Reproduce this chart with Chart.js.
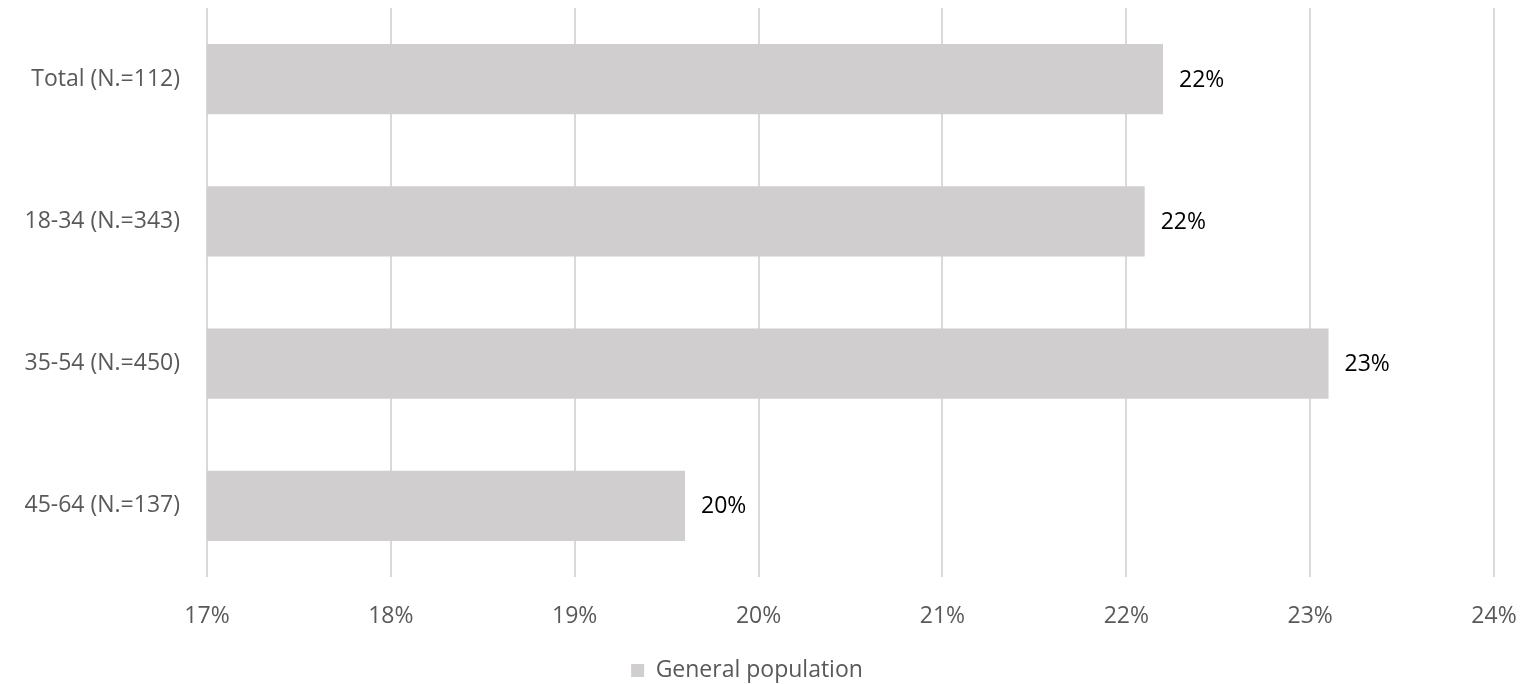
<!DOCTYPE html>
<html>
<head>
<meta charset="utf-8">
<script src="https://cdn.jsdelivr.net/npm/chart.js@4/dist/chart.umd.min.js"></script>
<style>
  html, body { margin: 0; padding: 0; background: #fff; }
  #wrap { width: 1520px; height: 684px; }
</style>
</head>
<body>
<div id="wrap"><canvas id="barChart"></canvas></div>
<script>
const categories = ['Total (N.=112)', '18-34 (N.=343)', '35-54 (N.=450)', '45-64 (N.=137)'];
const generalPopulation = [22.2, 22.1, 23.1, 19.6];
const seriesName = 'General population';
const xMin = 17, xMax = 24;

const fontFamily = "'Open Sans', 'Liberation Sans', sans-serif";

// Draws the percentage next to the end of each bar
const barValueLabels = {
    id: 'barValueLabels',
    afterDatasetsDraw(chart) {
        const ctx = chart.ctx;
        ctx.save();
        ctx.font = `23px ${fontFamily}`;
        ctx.fillStyle = '#000000';
        ctx.textAlign = 'left';
        ctx.textBaseline = 'middle';
        chart.getDatasetMeta(0).data.forEach((bar, i) => {
            ctx.fillText(Math.round(generalPopulation[i]) + '%', bar.x + 16, bar.y + 1);
        });
        ctx.restore();
    }
};

document.addEventListener('DOMContentLoaded', function () {
    const ctx = document.getElementById('barChart').getContext('2d');
    new Chart(ctx, {
        type: 'bar',
        data: {
            labels: categories,
            datasets: [{
                label: seriesName,
                data: generalPopulation,
                backgroundColor: '#D0CECE',
                borderWidth: 0,
                categoryPercentage: 1,
                barPercentage: 0.494
            }]
        },
        options: {
            indexAxis: 'y',
            responsive: true,
            maintainAspectRatio: false,
            animation: false,
            layout: { padding: { top: 8, left: 0, right: 26, bottom: -8 } },
            scales: {
                x: {
                    min: xMin,
                    max: xMax,
                    grid: { color: '#D9D9D9', lineWidth: 2, drawTicks: false },
                    border: { display: false },
                    ticks: {
                        stepSize: 1,
                        padding: 26,
                        color: '#595959',
                        font: { family: fontFamily, size: 23 },
                        callback: v => v + '%'
                    },
                    afterFit: s => {
                        s.height = 82;
                        s.paddingLeft = 0;
                        s.paddingRight = 0;
                    }
                },
                y: {
                    grid: { display: false, drawTicks: false },
                    border: { display: false },
                    ticks: {
                        padding: 27,
                        color: '#595959',
                        font: { family: fontFamily, size: 23 }
                    },
                    afterFit: s => {
                        s.width = 207;
                        s.paddingTop = 0;
                        s.paddingBottom = 0;
                    }
                }
            },
            plugins: {
                legend: {
                    position: 'bottom',
                    labels: {
                        color: '#595959',
                        font: { family: fontFamily, size: 23 },
                        boxWidth: 13,
                        boxHeight: 13,
                        padding: 0
                    }
                },
                tooltip: { enabled: false }
            }
        },
        plugins: [barValueLabels]
    });
});
</script>
</body>
</html>
